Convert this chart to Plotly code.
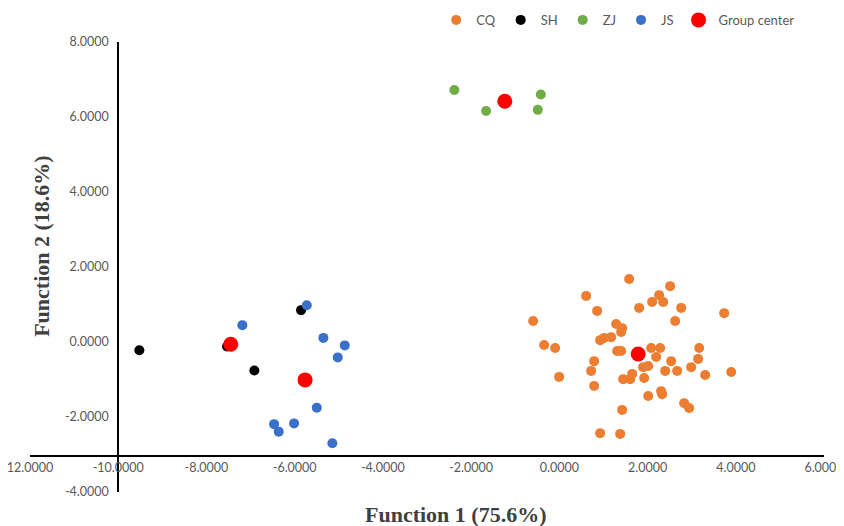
import plotly.graph_objects as go

# ---------------- data ----------------
cq_x = [1.583, 2.512, 0.608, 2.263, 2.104, 2.354, 1.810, 2.762, 0.857, 3.737,
        -0.594, 2.626, 1.288, 1.424, 1.401, 1.175, 1.016, 0.925, -0.345, -0.095,
        2.082, 2.286, 3.170, 1.311, 1.401, 2.195, 3.147, 0.789, 2.535, 1.900,
        2.014, 2.989, 0.721, 2.399, 2.671, 3.896, 3.306, 1.651, -0.005, 1.447,
        1.605, 1.923, 0.789, 2.308, 2.331, 2.014, 2.830, 2.943, 1.424, 0.925,
        1.379]
cq_y = [1.68, 1.49, 1.23, 1.25, 1.07, 1.07, 0.91, 0.91, 0.83, 0.77,
        0.56, 0.56, 0.48, 0.37, 0.27, 0.13, 0.11, 0.05, -0.08, -0.16,
        -0.16, -0.16, -0.16, -0.24, -0.24, -0.40, -0.45, -0.51, -0.51, -0.67,
        -0.64, -0.67, -0.77, -0.77, -0.77, -0.80, -0.88, -0.85, -0.93, -0.99,
        -0.99, -0.96, -1.17, -1.31, -1.39, -1.44, -1.63, -1.76, -1.81, -2.43,
        -2.45]

sh_x = [-9.521, -7.533, -6.914, -5.855]
sh_y = [-0.22, -0.12, -0.76, 0.85]

zj_x = [-2.379, -1.660, -0.420, -0.488]
zj_y = [6.72, 6.16, 6.60, 6.19]

js_x = [-5.726, -7.186, -5.349, -4.864, -5.023, -5.499, -6.467, -6.361, -6.014, -5.145]
js_y = [0.98, 0.45, 0.11, -0.09, -0.41, -1.75, -2.19, -2.39, -2.17, -2.70]

center_x = [1.787, -7.449, -1.236, -5.764]
center_y = [-0.32, -0.06, 6.42, -1.01]

x_ticks = [-12, -10, -8, -6, -4, -2, 0, 2, 4, 6]
x_tick_text = ["12.0000", "-10.0000", "-8.0000", "-6.0000", "-4.0000",
               "-2.0000", "0.0000", "2.0000", "4.0000", "6.0000"]
y_ticks = [-4, -2, 0, 2, 4, 6, 8]
y_tick_text = ["-4.0000", "-2.0000", "0.0000", "2.0000", "4.0000", "6.0000", "8.0000"]

x_range = [-12, 6]
y_range = [-4, 8]
x_axis_cross_y = -3.04   # where horizontal axis line sits
y_axis_cross_x = -10     # where vertical axis line sits

# ---------------- figure ----------------
tick_font = dict(family="Lato, 'Noto Sans', sans-serif", size=12.5, color="#595959")
legend_font = dict(family="Lato, 'Noto Sans', sans-serif", size=13, color="#595959")
title_font = dict(family="'Liberation Serif', 'Times New Roman', serif", size=22, color="#404040")

fig = go.Figure()
series = [
    ("CQ", cq_x, cq_y, "#ED7D31", 10),
    ("SH", sh_x, sh_y, "#000000", 10),
    ("ZJ", zj_x, zj_y, "#70AD47", 10),
    ("JS", js_x, js_y, "#3A70C8", 10),
    ("Group center", center_x, center_y, "#FF0000", 15),
]
for name, xs, ys, col, sz in series:
    fig.add_trace(go.Scatter(
        x=xs, y=ys, mode="markers", name=name,
        marker=dict(color=col, size=sz, line=dict(width=0)),
    ))

# page body has an 8px margin, so the figure is 836x518 and sits at (8, 8)
fig.update_layout(
    width=836, height=518,
    margin=dict(l=22, r=20, t=34, b=34, autoexpand=False),
    paper_bgcolor="white", plot_bgcolor="white",
    showlegend=True,
    legend=dict(
        orientation="h", x=0.97, xanchor="right", y=1.049, yanchor="middle",
        font=legend_font, itemwidth=30, bgcolor="rgba(0,0,0,0)",
    ),
    xaxis=dict(
        range=x_range, autorange=False, anchor="free",
        position=(x_axis_cross_y - y_range[0]) / (y_range[1] - y_range[0]),
        showgrid=False, zeroline=False, showline=True, linecolor="black", linewidth=2,
        tickmode="array", tickvals=x_ticks, ticktext=x_tick_text,
        ticks="", tickfont=tick_font, automargin=False, ticklabeloverflow="allow",
    ),
    yaxis=dict(
        range=y_range, autorange=False, anchor="free",
        position=(y_axis_cross_x - x_range[0]) / (x_range[1] - x_range[0]),
        showgrid=False, zeroline=False, showline=True, linecolor="black", linewidth=2,
        tickmode="array", tickvals=y_ticks, ticktext=y_tick_text,
        ticks="", tickfont=tick_font, ticklabelstandoff=6, automargin=False,
        ticklabeloverflow="allow",
    ),
    annotations=[
        dict(text="<b>Function 1 (75.6%)</b>", xref="paper", yref="paper",
             x=0.5365, y=-0.049, xanchor="center", yanchor="middle",
             showarrow=False, font=title_font),
        dict(text="<b>Function 2 (18.6%)</b>", xref="paper", yref="paper",
             x=0.0151, y=0.547, xanchor="center", yanchor="middle", textangle=-90,
             showarrow=False, font=title_font),
    ],
)

fig.write_html("out.html")
